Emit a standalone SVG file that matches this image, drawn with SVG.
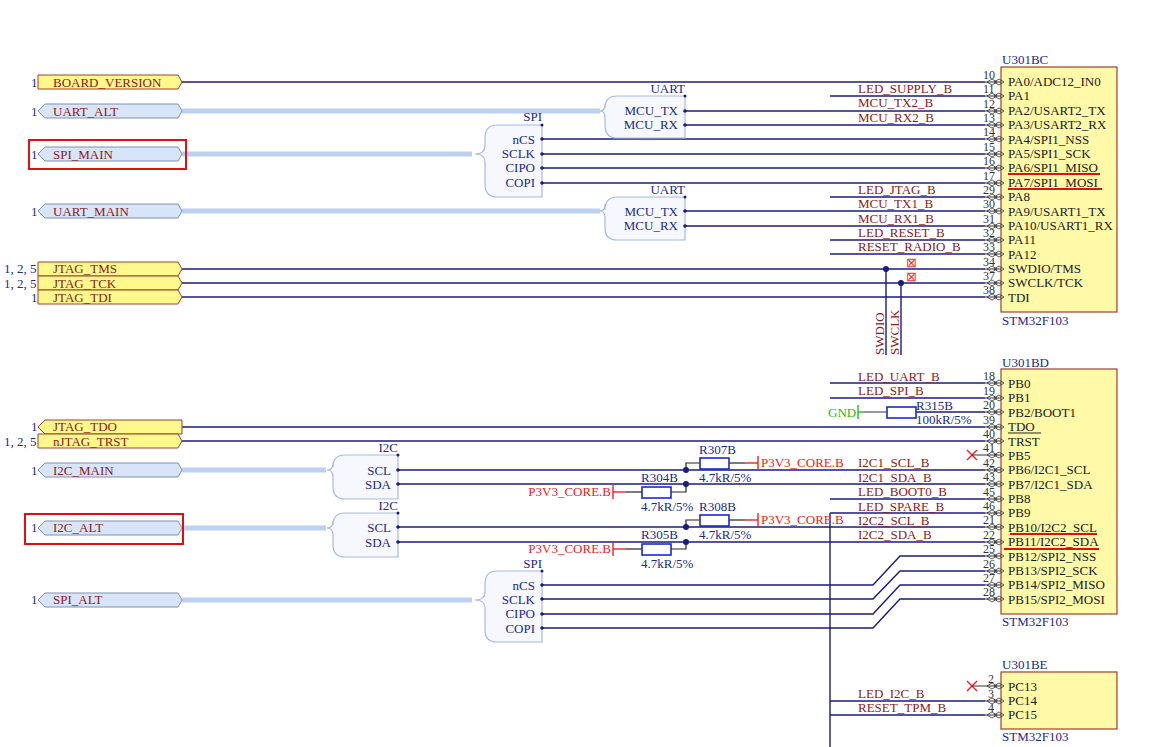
<svg xmlns="http://www.w3.org/2000/svg" width="1160" height="747" viewBox="0 0 1160 747">
<style>
text{font-family:"Liberation Serif",serif;font-size:13px}
.w{stroke:#1a1a80;stroke-width:1.4;fill:none}
.bus{stroke:#bcd0f2;stroke-width:5;fill:none}
.net{fill:#8b1a1a}
.pn{fill:#1a1a1a}
.num{fill:#333;font-size:12px}
.blue{fill:#1a2a8a}
.chip{fill:#fff9a8;stroke:#a04030;stroke-width:1.2}
.py{fill:#fff98c;stroke:#a04030;stroke-width:1}
.pb{fill:#d8e4f8;stroke:#8090b0;stroke-width:1}
.brk{fill:#f6f8fe;stroke:#a8b8e0;stroke-width:1.2}
.red{fill:#ee2222}
.res{fill:#fff;stroke:#1a2ad0;stroke-width:1.6}
.hl{fill:none;stroke:#e01010;stroke-width:2}
.dot{fill:#1a1a80}
</style>
<defs>
<g id="pin"><line x1="-16" y1="0" x2="0" y2="0" stroke="#333" stroke-width="1"/><path d="M-14,0 l5,-3 l5,3 l-5,3z M-7,0 l5,-3 l5,3 l-5,3z" fill="none" stroke="#333" stroke-width="0.8"/></g>
</defs>
<g id="connectors">
<line class="w" x1="182" y1="82" x2="985" y2="82"/>
<line class="w" x1="830" y1="96" x2="985" y2="96"/>
<line class="w" x1="685" y1="111" x2="985" y2="111"/>
<line class="w" x1="685" y1="125" x2="985" y2="125"/>
<line class="w" x1="542" y1="139" x2="985" y2="139"/>
<line class="w" x1="542" y1="154" x2="985" y2="154"/>
<line class="w" x1="542" y1="168" x2="985" y2="168"/>
<line class="w" x1="542" y1="183" x2="985" y2="183"/>
<line class="w" x1="830" y1="197" x2="985" y2="197"/>
<line class="w" x1="685" y1="211" x2="985" y2="211"/>
<line class="w" x1="685" y1="226" x2="985" y2="226"/>
<line class="w" x1="830" y1="240" x2="985" y2="240"/>
<line class="w" x1="830" y1="254" x2="985" y2="254"/>
<line class="w" x1="182" y1="269" x2="985" y2="269"/>
<line class="w" x1="182" y1="283" x2="985" y2="283"/>
<line class="w" x1="182" y1="297" x2="985" y2="297"/>
<line class="w" x1="886" y1="269" x2="886" y2="355"/>
<line class="w" x1="901" y1="283" x2="901" y2="355"/>
<circle class="dot" cx="886" cy="269" r="3"/><circle class="dot" cx="901" cy="283" r="3"/>
<line class="bus" x1="182" y1="111" x2="600" y2="111"/>
<line class="bus" x1="182" y1="154" x2="472" y2="154"/>
<line class="bus" x1="182" y1="211" x2="600" y2="211"/>
<line class="bus" x1="182" y1="470" x2="326" y2="470"/>
<line class="bus" x1="182" y1="528" x2="326" y2="528"/>
<line class="bus" x1="182" y1="600" x2="472" y2="600"/>
<line class="w" x1="830" y1="383" x2="985" y2="383"/>
<line class="w" x1="830" y1="398" x2="985" y2="398"/>
<line class="w" x1="916" y1="412" x2="985" y2="412"/>
<line stroke="#333" x1="864" y1="412" x2="887" y2="412"/>
<line class="w" x1="182" y1="427" x2="985" y2="427"/>
<line class="w" x1="182" y1="441" x2="985" y2="441"/>
<line class="w" x1="398" y1="470" x2="985" y2="470"/>
<line class="w" x1="398" y1="484" x2="985" y2="484"/>
<line class="w" x1="830" y1="499" x2="985" y2="499"/>
<line class="w" x1="830" y1="513" x2="985" y2="513"/>
<line class="w" x1="398" y1="527" x2="985" y2="527"/>
<line class="w" x1="398" y1="542" x2="985" y2="542"/>
<line class="w" x1="830" y1="513" x2="830" y2="747"/>
<polyline class="w" points="542,585 873,585 900,556 985,556"/>
<polyline class="w" points="542,599 873,599 900,571 985,571"/>
<polyline class="w" points="542,614 873,614 900,585 985,585"/>
<polyline class="w" points="542,628 873,628 900,599 985,599"/>
<line class="w" x1="830" y1="701" x2="985" y2="701"/>
<line class="w" x1="830" y1="715" x2="985" y2="715"/>
<g stroke="#222" stroke-width="1.2" fill="none">
<polyline points="686,470 686,463 700,463"/><line x1="729" y1="463" x2="745" y2="463"/>
<polyline points="686,484 686,492 671,492"/><line x1="642" y1="492" x2="626" y2="492"/>
<polyline points="686,527 686,520 700,520"/><line x1="729" y1="520" x2="745" y2="520"/>
<polyline points="686,542 686,549 671,549"/><line x1="642" y1="549" x2="626" y2="549"/>
</g>
<circle class="dot" cx="686" cy="470" r="3"/><circle class="dot" cx="686" cy="484" r="3"/>
<circle class="dot" cx="686" cy="527" r="3"/><circle class="dot" cx="686" cy="542" r="3"/>
<g stroke="#ee2222" stroke-width="1.4">
<line x1="745" y1="463" x2="758" y2="463"/><line x1="758" y1="456" x2="758" y2="470"/>
<line x1="745" y1="520" x2="758" y2="520"/><line x1="758" y1="513" x2="758" y2="527"/>
<line x1="626" y1="492" x2="613" y2="492"/><line x1="613" y1="485" x2="613" y2="499"/>
<line x1="626" y1="549" x2="613" y2="549"/><line x1="613" y1="542" x2="613" y2="556"/>
<line x1="967" y1="450" x2="977" y2="460"/><line x1="977" y1="450" x2="967" y2="460"/>
<line x1="967" y1="681" x2="977" y2="691"/><line x1="977" y1="681" x2="967" y2="691"/>
</g>
<g stroke="#22bb22" stroke-width="1.4"><line x1="858" y1="405" x2="858" y2="419"/><line x1="858" y1="412" x2="864" y2="412"/></g>
</g>
<g id="ports">
<text class="blue" x="31" y="87">1</text>
<path class="py" d="M38,75 h140 l4,7 l-4,7 h-140z"/><text class="net" x="53" y="87">BOARD_VERSION</text>
<text class="blue" x="31" y="116">1</text>
<path class="pb" d="M45,104 h133 l4,7 l-4,7 h-133 l-7,-7z"/><text class="net" x="53" y="116">UART_ALT</text>
<text class="blue" x="31" y="159">1</text>
<path class="pb" d="M45,147 h133 l4,7 l-4,7 h-133 l-7,-7z"/><text class="net" x="53" y="159">SPI_MAIN</text>
<rect class="hl" x="29" y="140" width="157" height="29"/>
<text class="blue" x="31" y="216">1</text>
<path class="pb" d="M45,204 h133 l4,7 l-4,7 h-133 l-7,-7z"/><text class="net" x="53" y="216">UART_MAIN</text>
<text class="blue" x="4" y="273">1, 2, 5</text>
<path class="py" d="M38,262 h140 l4,7 l-4,7 h-140z"/><text class="net" x="53" y="273">JTAG_TMS</text>
<text class="blue" x="4" y="288">1, 2, 5</text>
<path class="py" d="M38,276 h140 l4,7 l-4,7 h-140z"/><text class="net" x="53" y="288">JTAG_TCK</text>
<text class="blue" x="31" y="302">1</text>
<path class="py" d="M38,290 h140 l4,7 l-4,7 h-140z"/><text class="net" x="53" y="302">JTAG_TDI</text>
<text class="blue" x="31" y="431">1</text>
<path class="py" d="M45,420 h137 v14 h-137 l-7,-7z"/><text class="net" x="53" y="431">JTAG_TDO</text>
<text class="blue" x="4" y="446">1, 2, 5</text>
<path class="py" d="M38,434 h140 l4,7 l-4,7 h-140z"/><text class="net" x="53" y="446">nJTAG_TRST</text>
<text class="blue" x="31" y="475">1</text>
<path class="pb" d="M45,463 h133 l4,7 l-4,7 h-133 l-7,-7z"/><text class="net" x="53" y="475">I2C_MAIN</text>
<text class="blue" x="31" y="532">1</text>
<path class="pb" d="M45,521 h133 l4,7 l-4,7 h-133 l-7,-7z"/><text class="net" x="53" y="532">I2C_ALT</text>
<rect class="hl" x="25" y="514" width="158" height="30"/>
<text class="blue" x="31" y="604">1</text>
<path class="pb" d="M45,593 h133 l4,7 l-4,7 h-133 l-7,-7z"/><text class="net" x="53" y="604">SPI_ALT</text>
</g>
<g id="bus-entries">
<path class="brk" d="M685,96 V138 H617 Q605,138 605,125 V118 Q605,111 600,111 Q605,111 605,104 V108 Q605,96 617,96Z"/>
<text class="blue" x="685" y="93" text-anchor="end">UART</text><circle class="dot" cx="685" cy="96" r="1.5"/>
<text class="blue" x="678" y="115" text-anchor="end">MCU_TX</text><text class="blue" x="678" y="129" text-anchor="end">MCU_RX</text>
<circle class="dot" cx="685" cy="111" r="1.8"/><circle class="dot" cx="685" cy="125" r="1.8"/>
<path class="brk" d="M542,125 V197 H497 Q485,197 485,184 V162 Q485,154 475,154 Q485,154 485,146 V138 Q485,125 497,125Z"/>
<text class="blue" x="542" y="121" text-anchor="end">SPI</text><circle class="dot" cx="542" cy="125" r="1.5"/>
<text class="blue" x="535" y="144" text-anchor="end">nCS</text><text class="blue" x="535" y="158" text-anchor="end">SCLK</text>
<text class="blue" x="535" y="172" text-anchor="end">CIPO</text><text class="blue" x="535" y="187" text-anchor="end">COPI</text>
<circle class="dot" cx="542" cy="139" r="1.8"/><circle class="dot" cx="542" cy="154" r="1.8"/><circle class="dot" cx="542" cy="168" r="1.8"/><circle class="dot" cx="542" cy="183" r="1.8"/>
<path class="brk" d="M685,197 V240 H617 Q605,240 605,228 V218 Q605,211 600,211 Q605,211 605,204 V210 Q605,197 617,197Z"/>
<text class="blue" x="685" y="194" text-anchor="end">UART</text><circle class="dot" cx="685" cy="197" r="1.5"/>
<text class="blue" x="678" y="216" text-anchor="end">MCU_TX</text><text class="blue" x="678" y="230" text-anchor="end">MCU_RX</text>
<circle class="dot" cx="685" cy="211" r="1.8"/><circle class="dot" cx="685" cy="226" r="1.8"/>
<path class="brk" d="M398,455 V499 H345 Q333,499 333,487 V477 Q333,470 327,470 Q333,470 333,463 V467 Q333,455 345,455Z"/>
<text class="blue" x="398" y="452" text-anchor="end">I2C</text><circle class="dot" cx="398" cy="455" r="1.5"/>
<text class="blue" x="391" y="475" text-anchor="end">SCL</text><text class="blue" x="391" y="489" text-anchor="end">SDA</text>
<circle class="dot" cx="398" cy="470" r="1.8"/><circle class="dot" cx="398" cy="484" r="1.8"/>
<path class="brk" d="M398,513 V557 H345 Q333,557 333,545 V535 Q333,528 327,528 Q333,528 333,521 V525 Q333,513 345,513Z"/>
<text class="blue" x="398" y="510" text-anchor="end">I2C</text><circle class="dot" cx="398" cy="513" r="1.5"/>
<text class="blue" x="391" y="532" text-anchor="end">SCL</text><text class="blue" x="391" y="547" text-anchor="end">SDA</text>
<circle class="dot" cx="398" cy="527" r="1.8"/><circle class="dot" cx="398" cy="542" r="1.8"/>
<path class="brk" d="M542,571 V642 H497 Q485,642 485,630 V608 Q485,600 475,600 Q485,600 485,592 V584 Q485,571 497,571Z"/>
<text class="blue" x="542" y="568" text-anchor="end">SPI</text><circle class="dot" cx="542" cy="571" r="1.5"/>
<text class="blue" x="535" y="590" text-anchor="end">nCS</text><text class="blue" x="535" y="604" text-anchor="end">SCLK</text>
<text class="blue" x="535" y="618" text-anchor="end">CIPO</text><text class="blue" x="535" y="633" text-anchor="end">COPI</text>
<circle class="dot" cx="542" cy="585" r="1.8"/><circle class="dot" cx="542" cy="599" r="1.8"/><circle class="dot" cx="542" cy="614" r="1.8"/><circle class="dot" cx="542" cy="628" r="1.8"/>
</g>
<g id="netlabels">
<text class="net" x="858" y="93">LED_SUPPLY_B</text>
<text class="net" x="858" y="107">MCU_TX2_B</text>
<text class="net" x="858" y="122">MCU_RX2_B</text>
<text class="net" x="858" y="194">LED_JTAG_B</text>
<text class="net" x="858" y="208">MCU_TX1_B</text>
<text class="net" x="858" y="223">MCU_RX1_B</text>
<text class="net" x="858" y="237">LED_RESET_B</text>
<text class="net" x="858" y="251">RESET_RADIO_B</text>
<text class="net" transform="translate(884,355) rotate(-90)">SWDIO</text>
<text class="net" transform="translate(899,355) rotate(-90)">SWCLK</text>
<text x="906" y="267" font-size="9" fill="#e33">⊠</text>
<text x="906" y="281" font-size="9" fill="#e33">⊠</text>
<text class="net" x="858" y="381">LED_UART_B</text>
<text class="net" x="858" y="395">LED_SPI_B</text>
<text class="net" x="858" y="467">I2C1_SCL_B</text>
<text class="net" x="858" y="482">I2C1_SDA_B</text>
<text class="net" x="858" y="496">LED_BOOT0_B</text>
<text class="net" x="858" y="511">LED_SPARE_B</text>
<text class="net" x="858" y="525">I2C2_SCL_B</text>
<text class="net" x="858" y="539">I2C2_SDA_B</text>
<text class="net" x="858" y="698">LED_I2C_B</text>
<text class="net" x="858" y="712">RESET_TPM_B</text>
<text x="828" y="417" fill="#22bb22">GND</text>
<text class="red" x="761" y="467">P3V3_CORE.B</text>
<text class="red" x="761" y="524">P3V3_CORE.B</text>
<text class="red" x="611" y="496" text-anchor="end">P3V3_CORE.B</text>
<text class="red" x="611" y="553" text-anchor="end">P3V3_CORE.B</text>
</g>
<g id="resistors">
<g id="R307B"><rect class="res" x="700" y="458" width="29" height="11"/><text class="blue" x="699" y="454">R307B</text><text class="blue" x="699" y="482">4.7kR/5%</text></g>
<g id="R304B"><rect class="res" x="642" y="487" width="29" height="11"/><text class="blue" x="641" y="482">R304B</text><text class="blue" x="641" y="511">4.7kR/5%</text></g>
<g id="R308B"><rect class="res" x="700" y="515" width="29" height="11"/><text class="blue" x="699" y="511">R308B</text><text class="blue" x="699" y="539">4.7kR/5%</text></g>
<g id="R305B"><rect class="res" x="642" y="544" width="29" height="11"/><text class="blue" x="641" y="539">R305B</text><text class="blue" x="641" y="568">4.7kR/5%</text></g>
<g id="R315B"><rect class="res" x="887" y="407" width="29" height="11"/><text class="blue" x="916" y="410">R315B</text><text class="blue" x="916" y="424">100kR/5%</text></g>
</g>
<g id="U301BC">
<text class="blue" x="1002" y="64">U301BC</text>
<rect class="chip" x="1001" y="67" width="116" height="245"/>
<text class="blue" x="1002" y="325">STM32F103</text>
<g class="pn">
<use href="#pin" x="1001" y="82"/><text class="num" x="983" y="79">10</text><text x="1008" y="86">PA0/ADC12_IN0</text>
<use href="#pin" x="1001" y="96"/><text class="num" x="983" y="93">11</text><text x="1008" y="100">PA1</text>
<use href="#pin" x="1001" y="111"/><text class="num" x="983" y="108">12</text><text x="1008" y="115">PA2/USART2_TX</text>
<use href="#pin" x="1001" y="125"/><text class="num" x="983" y="122">13</text><text x="1008" y="129">PA3/USART2_RX</text>
<use href="#pin" x="1001" y="139"/><text class="num" x="983" y="136">14</text><text x="1008" y="144">PA4/SPI1_NSS</text>
<use href="#pin" x="1001" y="154"/><text class="num" x="983" y="151">15</text><text x="1008" y="158">PA5/SPI1_SCK</text>
<use href="#pin" x="1001" y="168"/><text class="num" x="983" y="165">16</text><text x="1008" y="172">PA6/SPI1_MISO</text>
<use href="#pin" x="1001" y="183"/><text class="num" x="983" y="180">17</text><text x="1008" y="187">PA7/SPI1_MOSI</text>
<use href="#pin" x="1001" y="197"/><text class="num" x="983" y="194">29</text><text x="1008" y="201">PA8</text>
<use href="#pin" x="1001" y="211"/><text class="num" x="983" y="208">30</text><text x="1008" y="216">PA9/USART1_TX</text>
<use href="#pin" x="1001" y="226"/><text class="num" x="983" y="223">31</text><text x="1008" y="230">PA10/USART1_RX</text>
<use href="#pin" x="1001" y="240"/><text class="num" x="983" y="237">32</text><text x="1008" y="244">PA11</text>
<use href="#pin" x="1001" y="254"/><text class="num" x="983" y="251">33</text><text x="1008" y="259">PA12</text>
<use href="#pin" x="1001" y="269"/><text class="num" x="983" y="266">34</text><text x="1008" y="273">SWDIO/TMS</text>
<use href="#pin" x="1001" y="283"/><text class="num" x="983" y="280">37</text><text x="1008" y="287">SWCLK/TCK</text>
<use href="#pin" x="1001" y="297"/><text class="num" x="983" y="294">38</text><text x="1008" y="302">TDI</text>
</g>
<line x1="1008" y1="174" x2="1100" y2="174" stroke="#e01010" stroke-width="2"/>
<line x1="1008" y1="189" x2="1102" y2="189" stroke="#e01010" stroke-width="2"/>
</g>
<g id="U301BD">
<text class="blue" x="1002" y="367">U301BD</text>
<rect class="chip" x="1001" y="369" width="116" height="245"/>
<text class="blue" x="1002" y="626">STM32F103</text>
<g class="pn">
<use href="#pin" x="1001" y="383"/><text class="num" x="983" y="380">18</text><text x="1008" y="388">PB0</text>
<use href="#pin" x="1001" y="398"/><text class="num" x="983" y="395">19</text><text x="1008" y="402">PB1</text>
<use href="#pin" x="1001" y="412"/><text class="num" x="983" y="409">20</text><text x="1008" y="417">PB2/BOOT1</text>
<use href="#pin" x="1001" y="427"/><text class="num" x="983" y="424">39</text><text x="1008" y="431">TDO</text>
<use href="#pin" x="1001" y="441"/><text class="num" x="983" y="438">40</text><text x="1008" y="446">TRST</text>
<use href="#pin" x="1001" y="455"/><text class="num" x="983" y="452">41</text><text x="1008" y="460">PB5</text>
<use href="#pin" x="1001" y="470"/><text class="num" x="983" y="467">42</text><text x="1008" y="474">PB6/I2C1_SCL</text>
<use href="#pin" x="1001" y="484"/><text class="num" x="983" y="481">43</text><text x="1008" y="489">PB7/I2C1_SDA</text>
<use href="#pin" x="1001" y="499"/><text class="num" x="983" y="496">45</text><text x="1008" y="503">PB8</text>
<use href="#pin" x="1001" y="513"/><text class="num" x="983" y="510">46</text><text x="1008" y="517">PB9</text>
<use href="#pin" x="1001" y="527"/><text class="num" x="983" y="524">21</text><text x="1008" y="532">PB10/I2C2_SCL</text>
<use href="#pin" x="1001" y="542"/><text class="num" x="983" y="539">22</text><text x="1008" y="546">PB11/I2C2_SDA</text>
<use href="#pin" x="1001" y="556"/><text class="num" x="983" y="553">25</text><text x="1008" y="561">PB12/SPI2_NSS</text>
<use href="#pin" x="1001" y="571"/><text class="num" x="983" y="568">26</text><text x="1008" y="575">PB13/SPI2_SCK</text>
<use href="#pin" x="1001" y="585"/><text class="num" x="983" y="582">27</text><text x="1008" y="589">PB14/SPI2_MISO</text>
<use href="#pin" x="1001" y="599"/><text class="num" x="983" y="596">28</text><text x="1008" y="604">PB15/SPI2_MOSI</text>
</g>
<line x1="1008" y1="433" x2="1041" y2="433" stroke="#222" stroke-width="1"/>
<line x1="1010" y1="534" x2="1097" y2="534" stroke="#e01010" stroke-width="2"/>
<line x1="1004" y1="549" x2="1099" y2="549" stroke="#e01010" stroke-width="2"/>
</g>
<g id="U301BE">
<text class="blue" x="1002" y="669">U301BE</text>
<rect class="chip" x="1001" y="672" width="116" height="57"/>
<text class="blue" x="1002" y="741">STM32F103</text>
<g class="pn">
<use href="#pin" x="1001" y="686"/><text class="num" x="988" y="683">2</text><text x="1008" y="691">PC13</text>
<use href="#pin" x="1001" y="701"/><text class="num" x="988" y="698">3</text><text x="1008" y="705">PC14</text>
<use href="#pin" x="1001" y="715"/><text class="num" x="988" y="712">4</text><text x="1008" y="719">PC15</text>
</g>
<line x1="972" y1="686" x2="985" y2="686" stroke="#333"/>
<line x1="972" y1="455" x2="985" y2="455" stroke="#333"/>
</g>
</svg>
